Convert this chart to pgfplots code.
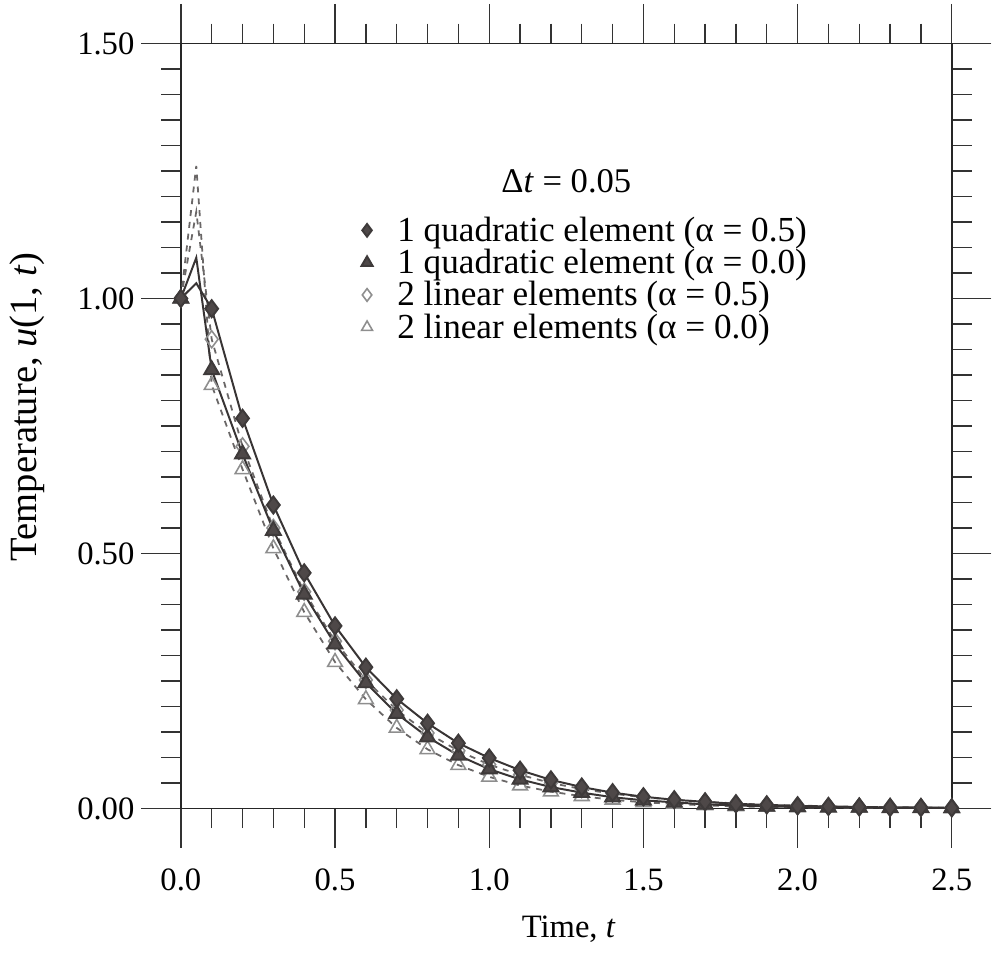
\documentclass[border=0pt]{standalone}
\usepackage{fontspec}
\setmainfont{Liberation Serif}
\usepackage{pgfplots}
\usepackage{pgfplotstable}
\pgfplotsset{compat=1.18}

\definecolor{mk}{HTML}{4E4848}
\definecolor{ln}{HTML}{383434}
\definecolor{hl}{HTML}{8E8E8E}

% u(1,t): qa = 1 quadratic (alpha=0.5), qb = 1 quadratic (alpha=0.0)
%         la = 2 linear (alpha=0.5),    lb = 2 linear (alpha=0.0)
\pgfplotstableread{
t     qa     qb     la     lb
0.00  1.000  1.000  1.000  1.000
0.05  1.030  1.080  1.170  1.260
0.10  0.980  0.860  0.920  0.830
0.20  0.765  0.695  0.710  0.665
0.30  0.595  0.545  0.550  0.510
0.40  0.462  0.420  0.425  0.385
0.50  0.358  0.322  0.328  0.287
0.60  0.277  0.246  0.252  0.214
0.70  0.215  0.186  0.193  0.158
0.80  0.167  0.140  0.148  0.116
0.90  0.128  0.104  0.113  0.085
1.00  0.099  0.077  0.086  0.062
1.10  0.075  0.057  0.066  0.045
1.20  0.056  0.042  0.050  0.033
1.30  0.042  0.031  0.038  0.024
1.40  0.031  0.022  0.029  0.017
1.50  0.023  0.016  0.022  0.012
1.60  0.017  0.012  0.017  0.009
1.70  0.013  0.008  0.013  0.006
1.80  0.009  0.006  0.010  0.004
1.90  0.007  0.004  0.007  0.003
2.00  0.005  0.003  0.006  0.002
2.10  0.004  0.002  0.004  0.002
2.20  0.003  0.002  0.003  0.001
2.30  0.002  0.001  0.003  0.001
2.40  0.002  0.001  0.002  0.001
2.50  0.001  0.001  0.002  0.000
}\data

\begin{document}
\begin{tikzpicture}
\begin{axis}[
  scale only axis, width=390pt, height=387pt,
  font=\fontsize{16.5}{19}\selectfont,
  xmin=0, xmax=2.5, ymin=0, ymax=1.5,
  xtick={0,0.5,1,1.5,2,2.5}, minor x tick num=4,
  ytick={0,0.5,1,1.5}, minor y tick num=9,
  tick align=outside, major tick length=20pt, minor tick length=10pt,
  axis line style={line width=0.8pt, black!85},
  every tick/.style={line width=0.7pt, black!80},
  /pgf/number format/assume math mode=true,
  xticklabel style={yshift=-7pt, /pgf/number format/.cd, fixed, fixed zerofill, precision=1},
  yticklabel style={/pgf/number format/.cd, fixed, fixed zerofill, precision=2},
  xlabel={Time, \textit{t}},
  ylabel={Temperature, \textit{u}(1, \textit{t})},
  xlabel style={at={(axis description cs:0.503,-0.158)}, anchor=center},
  ylabel style={at={(axis description cs:-0.199,0.525)}, anchor=center,
    font=\fontsize{19.5}{22}\selectfont},
  legend image code/.code={\path (0cm,0cm) (0.6cm,0cm);
    \draw[#1] plot coordinates {(0.15cm,0cm)};},
  legend image post style={/tikz/mark size=3.2pt},
  legend cell align=left,
  legend style={at={(axis cs:0.572,1.169)}, anchor=north west, draw=none, fill=none,
    row sep=-1.5pt, inner sep=0pt, font=\fontsize{17.8}{20}\selectfont},
  reverse legend,
]
\addplot[ln!75, dashed, line width=0.9pt, mark=triangle, mark size=4.3pt,
  mark options={solid, draw=hl, fill=white, line width=0.8pt},
  mark indices={1,3,4,5,6,7,8,9,10,11,12,13,14,15,16,17,18,19,20,21,22,23,24,25,26,27}]
  table[x=t, y=lb]{\data};
\addlegendentry{2 linear elements (α = 0.0)}
\addplot[ln!75, dashed, line width=0.9pt, mark=diamond, mark size=4.3pt,
  mark options={solid, draw=hl, fill=white, line width=0.8pt},
  mark indices={1,3,4,5,6,7,8,9,10,11,12,13,14,15,16,17,18,19,20,21,22,23,24,25,26,27}]
  table[x=t, y=la]{\data};
\addlegendentry{2 linear elements (α = 0.5)}
\addplot[ln, line width=1pt, mark=triangle*, mark size=4.3pt,
  mark options={solid, draw=mk!80!black, fill=mk},
  mark indices={1,3,4,5,6,7,8,9,10,11,12,13,14,15,16,17,18,19,20,21,22,23,24,25,26,27}]
  table[x=t, y=qb]{\data};
\addlegendentry{1 quadratic element (α = 0.0)}
\addplot[ln, line width=1pt, mark=diamond*, mark size=4.3pt,
  mark options={solid, draw=mk!80!black, fill=mk},
  mark indices={1,3,4,5,6,7,8,9,10,11,12,13,14,15,16,17,18,19,20,21,22,23,24,25,26,27}]
  table[x=t, y=qa]{\data};
\addlegendentry{1 quadratic element (α = 0.5)}
\node[font=\fontsize{17.5}{20}\selectfont] at (axis cs:1.25,1.23) {Δ\textit{t} = 0.05};
\end{axis}
\path ([shift={(-91.5pt,-75.5pt)}]current axis.south west)
  rectangle ([shift={(14.5pt,22pt)}]current axis.north east);
\end{tikzpicture}
\end{document}
